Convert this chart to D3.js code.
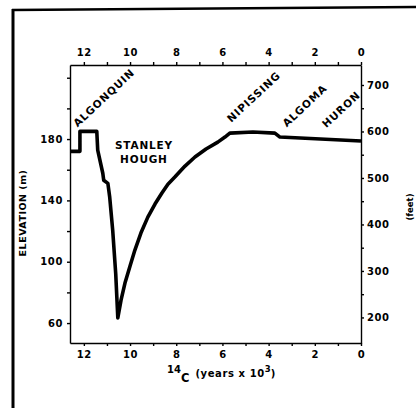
<!DOCTYPE html>
<html>
<head>
<meta charset="utf-8">
<script src="https://cdn.jsdelivr.net/npm/d3@7"></script>
<style>
    body { margin: 0; background: #fff; }
    svg text { font-family: "DejaVu Sans", sans-serif; font-weight: bold; fill: #000; }
    .axis path, .axis line { stroke: #000; stroke-width: 1.4; }
</style>
</head>
<body>
<svg id="chart" width="416" height="408"></svg>
<script>
// lake level history (14C years x 1000, elevation in m)
var ages   = [12.6, 12.17, 12.17, 11.44, 11.40, 11.18, 11.14, 10.96, 10.88, 10.75, 10.62, 10.53,
              10.39, 10.22, 10.0, 9.79, 9.53, 9.23, 8.92, 8.62, 8.36, 8.06, 7.62, 7.19, 6.71,
              6.20, 5.89, 5.68, 4.68, 3.73, 3.51, 0];
var levels = [172, 172, 185, 185, 172.8, 157.7, 153.1, 151.1, 142.0, 120.3, 92.1, 63.3,
              75.0, 86.1, 97.2, 107.6, 118.7, 129.1, 137.6, 144.8, 150.6, 155.2, 162.4, 168.3, 173.5,
              178.0, 181.3, 183.9, 184.6, 183.9, 181.3, 178.7];

var ageTicks   = [12, 11, 10, 9, 8, 7, 6, 5, 4, 3, 2, 1, 0];
var meterTicks = [60, 80, 100, 120, 140, 160, 180, 200, 220];
var meterLabels = [60, 100, 140, 180];
var feetTicks  = [200, 250, 300, 350, 400, 450, 500, 550, 600, 650, 700];
var feetLabels = [200, 300, 400, 500, 600, 700];

var phaseNames = ['ALGONQUIN', 'NIPISSING', 'ALGOMA', 'HURON'];
var phaseAge   = [12.28, 5.62, 3.22, 1.5];
var phaseElev  = [187.5, 190.5, 187.5, 187];

var svg = d3.select('#chart'),
    plotL = 70, plotR = 361, plotT = 65, plotB = 343;

var x = d3.scaleLinear().domain([12.6, 0]).range([plotL, plotR]),
    y = d3.scaleLinear().domain([47, 228.3]).range([plotB, plotT]),
    yFt = d3.scaleLinear().domain([145, 743]).range([plotB, plotT]);

// outer frame (scan border)
svg.append('line').attr('x1', 13).attr('y1', 9).attr('x2', 13).attr('y2', 408)
    .attr('stroke', '#000').attr('stroke-width', 3);
svg.append('line').attr('x1', 12).attr('y1', 10).attr('x2', 416).attr('y2', 7)
    .attr('stroke', '#000').attr('stroke-width', 2.5);

var evenFmt = function(d) { return d % 2 === 0 ? d : ''; };

svg.append('g').attr('class', 'axis').attr('transform', 'translate(0,' + plotB + ')')
    .call(d3.axisBottom(x).tickValues(ageTicks).tickFormat(evenFmt).tickSize(3).tickSizeOuter(0).tickPadding(5));
svg.append('g').attr('class', 'axis').attr('transform', 'translate(0,' + plotT + ')')
    .call(d3.axisTop(x).tickValues(ageTicks).tickFormat(evenFmt).tickSize(3).tickSizeOuter(0).tickPadding(6));
svg.append('g').attr('class', 'axis').attr('transform', 'translate(' + plotL + ',0)')
    .call(d3.axisLeft(y).tickValues(meterTicks)
        .tickFormat(function(d) { return meterLabels.indexOf(d) >= 0 ? d : ''; })
        .tickSize(3).tickSizeOuter(0).tickPadding(4));
svg.append('g').attr('class', 'axis').attr('transform', 'translate(' + plotR + ',0)')
    .call(d3.axisRight(yFt).tickValues(feetTicks)
        .tickFormat(function(d) { return feetLabels.indexOf(d) >= 0 ? d : ''; })
        .tickSize(3).tickSizeOuter(0).tickPadding(3));

svg.selectAll('.axis text').attr('font-size', 10).style('letter-spacing', '0.6px');

// the curve
var line = d3.line()
    .x(function(d, i) { return x(ages[i]); })
    .y(function(d, i) { return y(levels[i]); });

svg.append('path').datum(levels)
    .attr('d', line)
    .attr('fill', 'none')
    .attr('stroke', '#000')
    .attr('stroke-width', 3.6)
    .attr('stroke-linejoin', 'round');

// phase labels
svg.selectAll('.phase').data(phaseNames).enter()
    .append('text').attr('class', 'phase')
    .attr('transform', function(d, i) {
        return 'translate(' + x(phaseAge[i]) + ',' + y(phaseElev[i]) + ') rotate(-43)';
    })
    .attr('font-size', 10.5)
    .style('letter-spacing', '0.9px')
    .text(function(d) { return d; });

svg.append('text').attr('x', x(9.4)).attr('y', y(173.5)).attr('text-anchor', 'middle')
    .attr('font-size', 10.5).style('letter-spacing', '0.8px').text('STANLEY');
svg.append('text').attr('x', x(9.4)).attr('y', y(164.5)).attr('text-anchor', 'middle')
    .attr('font-size', 10.5).style('letter-spacing', '0.8px').text('HOUGH');

// axis titles
svg.append('text')
    .attr('transform', 'translate(26,213) rotate(-90)')
    .attr('text-anchor', 'middle').attr('font-size', 9.5)
    .style('letter-spacing', '0.5px')
    .text('ELEVATION (m)');

svg.append('text')
    .attr('transform', 'translate(413,207) rotate(-90)')
    .attr('text-anchor', 'middle').attr('font-size', 8.5)
    .text('(feet)');

var xt = svg.append('text').attr('x', 167).attr('y', 377).attr('font-size', 10);
xt.append('tspan').attr('dy', -4).text('14');
xt.append('tspan').attr('dy', 9).attr('font-size', 11.5).text('C');
xt.append('tspan').attr('dy', -5).attr('dx', 6).style('letter-spacing', '0.6px').text('(years x 10');
xt.append('tspan').attr('dy', -5).attr('font-size', 8.5).text('3');
xt.append('tspan').attr('dy', 5).text(')');
</script>
</body>
</html>
